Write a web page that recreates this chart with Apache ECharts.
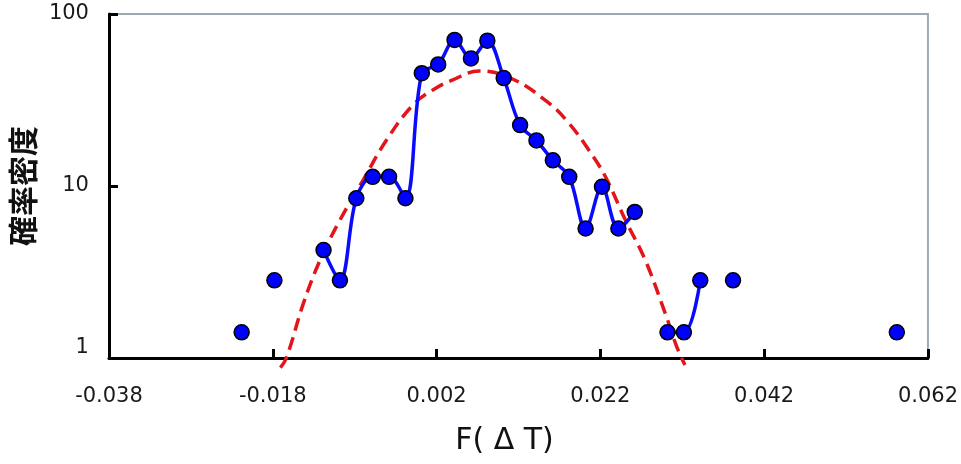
<!DOCTYPE html>
<html>
<head>
<meta charset="utf-8">
<script src="https://cdn.jsdelivr.net/npm/echarts@6/dist/echarts.min.js"></script>
<style>
html,body{margin:0;padding:0;background:#fff;}
#chart{width:961px;height:464px;}
</style>
</head>
<body>
<div id="chart"></div>
<script>
// ---- data ----
const xBins = [-0.0218, -0.0198, -0.0178, -0.0138, -0.0118, -0.0098, -0.0078, -0.0058, -0.0038, -0.0018,
  0.0002, 0.0022, 0.0042, 0.0062, 0.0082, 0.0102, 0.0122, 0.0142, 0.0162, 0.0182,
  0.0202, 0.0222, 0.0242, 0.0262, 0.0282, 0.0302, 0.0322, 0.0342, 0.0362, 0.0382, 0.0482, 0.0582];
const density = [1.41, null, 2.83, null, 4.24, 2.83, 8.49, 11.3, 11.3, 8.49,
  45.3, 50.9, 70.7, 55.2, 70.0, 42.4, 22.6, 18.4, 14.1, 11.3,
  5.66, 9.9, 5.66, 7.07, null, 1.41, 1.41, 2.83, null, 2.83, null, 1.41];
const fitX = [-0.01707, -0.01634, -0.01424, -0.01221, -0.00978, -0.00695, -0.00411, -0.00088, 0.00155, 0.00398,
  0.00722, 0.01127, 0.01573, 0.01815, 0.02058, 0.02261, 0.02504, 0.02747, 0.02990, 0.03131, 0.03233];
const fitY = [0.88, 1.0, 2.09, 3.72, 6.36, 10.86, 18.5, 29.6, 36.2, 41.4,
  46.7, 41.9, 30.3, 23.2, 16.2, 11.35, 6.36, 3.72, 1.83, 1.17, 0.91];
const xTickLabels = ['-0.038', '-0.018', '0.002', '0.022', '0.042', '0.062'];
const yTickValues = [1, 10, 100];
const xTitle = 'F( Δ T)';
const yTitle = '確率密度';

// axis origin shift so ticks start at the left edge
const X_SHIFT = 0.038;

const chart = echarts.init(document.getElementById('chart'), null, {renderer: 'canvas'});
const labelFont = 'DejaVu Sans';
chart.setOption({
  animation: false,
  backgroundColor: '#ffffff',
  grid: {left: 108, right: 31, top: 14, bottom: 106, show: true, borderColor: '#9aabb4', borderWidth: 2, backgroundColor: 'transparent'},
  xAxis: {
    type: 'value', min: 0, max: 0.1, interval: 0.02,
    axisLine: {show: true, onZero: false, lineStyle: {color: '#000', width: 3}},
    axisTick: {show: true, inside: true, length: 9, lineStyle: {color: '#000', width: 3}},
    splitLine: {show: false},
    axisLabel: {
      margin: 28, fontSize: 21, color: '#1a1a1a', fontFamily: labelFont,
      formatter: (v, i) => xTickLabels[Math.round(v / 0.02)]
    },
    name: xTitle, nameLocation: 'middle', nameGap: 68,
    nameTextStyle: {fontSize: 30, color: '#111', fontFamily: labelFont, padding: [0, 28, 0, 0]}
  },
  yAxis: {
    type: 'log', logBase: 10, min: 1, max: 100,
    axisLine: {show: true, lineStyle: {color: '#000', width: 3}},
    axisTick: {show: true, inside: true, length: 9, lineStyle: {color: '#000', width: 3}},
    splitLine: {show: false},
    minorTick: {show: false},
    axisLabel: {
      margin: 20, fontSize: 21, color: '#1a1a1a', fontFamily: labelFont,
      formatter: v => (Math.abs(v - yTickValues[0]) < 1e-9 ? '{low|' + v + '}' : String(v)),
      rich: {low: {fontSize: 21, fontFamily: labelFont, color: '#1a1a1a', padding: [0, 0, 20, 0]}}
    },
    name: yTitle, nameLocation: 'middle', nameGap: 68, nameRotate: 90,
    nameTextStyle: {fontSize: 30, fontWeight: 'bold', color: '#111', fontFamily: 'Noto Sans CJK JP'}
  },
  series: [
    {
      type: 'line', name: 'fit', z: 2,
      data: fitX.map((x, i) => [x + X_SHIFT, fitY[i]]),
      smooth: 0.4, showSymbol: false, symbol: 'none', clip: false,
      lineStyle: {color: '#e3141a', width: 3.5, type: [13, 7]}
    },
    {
      type: 'line', name: 'data', z: 3,
      data: xBins.map((x, i) => [x + X_SHIFT, density[i] == null ? '-' : density[i]]),
      smooth: 0.35, connectNulls: false, clip: false,
      symbol: 'circle', symbolSize: 15, showSymbol: true,
      lineStyle: {color: '#0a0aff', width: 3.5},
      itemStyle: {color: '#0000ff', borderColor: '#000', borderWidth: 1.5}
    }
  ]
});
</script>
</body>
</html>
